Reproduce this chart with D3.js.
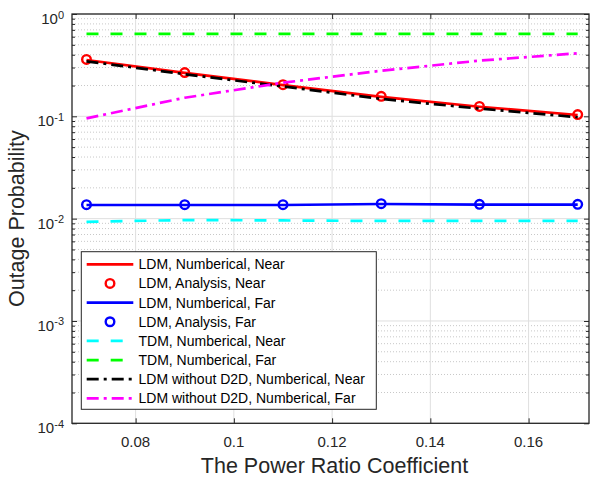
<!DOCTYPE html>
<html>
<head>
<meta charset="utf-8">
<script src="https://cdn.jsdelivr.net/npm/d3@7"></script>
<style>
  html, body { margin: 0; padding: 0; background: #fff; }
  svg { display: block; font-family: "Liberation Sans", Arial, Helvetica, sans-serif; }
</style>
</head>
<body>
<svg id="chart" width="590" height="481"></svg>
<script>
// ---------- data ----------
const xValues = [0.07, 0.09, 0.11, 0.13, 0.15, 0.17];
const ldmNumNear = [0.355, 0.266, 0.202, 0.155, 0.124, 0.103];
const ldmAnaNear = [0.36, 0.268, 0.204, 0.157, 0.125, 0.104];
const ldmNumFar = [0.0136, 0.0136, 0.0136, 0.0139, 0.0137, 0.0137];
const ldmAnaFar = [0.0137, 0.0137, 0.0137, 0.0140, 0.0138, 0.0138];
const tdmNumNear = [0.0093, 0.0097, 0.0096, 0.0095, 0.0095, 0.0095];
const tdmNumFar = [0.64, 0.64, 0.64, 0.64, 0.64, 0.64];
const noD2DNear = [0.345, 0.258, 0.196, 0.148, 0.119, 0.098];
const noD2DFar = [0.0955, 0.152, 0.213, 0.279, 0.35, 0.413];
const xTicks = [0.08, 0.1, 0.12, 0.14, 0.16];
const xTickLabels = ["0.08", "0.1", "0.12", "0.14", "0.16"];
const yTickExps = [0, -1, -2, -3, -4];
const seriesNames = [
  "LDM, Numberical, Near",
  "LDM, Analysis, Near",
  "LDM, Numberical, Far",
  "LDM, Analysis, Far",
  "TDM, Numberical, Near",
  "TDM, Numberical, Far",
  "LDM without D2D, Numberical, Near",
  "LDM without D2D, Numberical, Far"
];
const xLabel = "The Power Ratio Coefficient";
const yLabel = "Outage Probability";

// ---------- layout ----------
const L = 72, R = 589, T = 14, B = 423.3;
const svg = d3.select("#chart");
const x = d3.scaleLinear().domain([0.06705, 0.1723]).range([L, R]);
const y = d3.scaleLog().domain([1e-4, 1]).range([B, T]);
const axisColor = "#262626";

// grid
const g = svg.append("g");
// minor y grid
const minorY = [];
for (let e = -4; e < 0; e++) for (let m = 2; m <= 9; m++) minorY.push(m * Math.pow(10, e));
g.selectAll(".ming").data(minorY).enter().append("line")
  .attr("x1", L).attr("x2", R).attr("y1", d => y(d)).attr("y2", d => y(d))
  .attr("stroke", "#c8c8c8").attr("stroke-width", 1).attr("stroke-dasharray", "1,2");
// major grid
g.selectAll(".mgx").data(xTicks).enter().append("line")
  .attr("x1", d => x(d)).attr("x2", d => x(d)).attr("y1", T).attr("y2", B)
  .attr("stroke", "#dfdfdf").attr("stroke-width", 1);
g.selectAll(".mgy").data(yTickExps).enter().append("line")
  .attr("x1", L).attr("x2", R).attr("y1", d => y(Math.pow(10, d))).attr("y2", d => y(Math.pow(10, d)))
  .attr("stroke", "#dfdfdf").attr("stroke-width", 1);

// axes via d3 axis generators (ticks inward)
const xAxisB = d3.axisBottom(x).tickValues(xTicks).tickSize(-5).tickFormat("");
const xAxisT = d3.axisTop(x).tickValues(xTicks).tickSize(-5).tickFormat("");
const yMajor = yTickExps.map(e => Math.pow(10, e));
const yAxisL = d3.axisLeft(y).tickValues(yMajor).tickSize(-5).tickFormat("");
const yAxisR = d3.axisRight(y).tickValues(yMajor).tickSize(-5).tickFormat("");
const yAxisLm = d3.axisLeft(y).tickValues(minorY).tickSize(-3).tickFormat("");
const yAxisRm = d3.axisRight(y).tickValues(minorY).tickSize(-3).tickFormat("");
function styleAxis(sel) {
  sel.select(".domain").remove();
  sel.selectAll("line").attr("stroke", axisColor).attr("stroke-width", 1);
}
svg.append("g").attr("transform", `translate(0,${B})`).call(xAxisB).call(styleAxis);
svg.append("g").attr("transform", `translate(0,${T})`).call(xAxisT).call(styleAxis);
svg.append("g").attr("transform", `translate(${L},0)`).call(yAxisL).call(styleAxis);
svg.append("g").attr("transform", `translate(${R},0)`).call(yAxisR).call(styleAxis);
svg.append("g").attr("transform", `translate(${L},0)`).call(yAxisLm).call(styleAxis);
svg.append("g").attr("transform", `translate(${R},0)`).call(yAxisRm).call(styleAxis);
// box
svg.append("rect").attr("x", L).attr("y", T).attr("width", R - L).attr("height", B - T)
  .attr("fill", "none").attr("stroke", axisColor).attr("stroke-width", 1.3);

// tick labels
svg.selectAll(".xtl").data(xTicks).enter().append("text")
  .attr("x", d => x(d)).attr("y", B + 24).attr("text-anchor", "middle")
  .attr("font-size", 15).attr("fill", axisColor)
  .text((d, i) => xTickLabels[i]);
const ytl = svg.selectAll(".ytl").data(yTickExps).enter().append("text")
  .attr("x", 64).attr("y", d => y(Math.pow(10, d)) + 10).attr("text-anchor", "end")
  .attr("fill", axisColor);
ytl.append("tspan").attr("font-size", 15).text("10");
ytl.append("tspan").attr("font-size", 11).attr("dy", -5.5).text(d => String(d).replace("-", "-"));

// axis labels
svg.append("text").attr("x", (L + R) / 2 + 4).attr("y", 472.5).attr("text-anchor", "middle")
  .attr("font-size", 21.5).attr("fill", axisColor).text(xLabel);
svg.append("text").attr("transform", `translate(23.5,${(T + B) / 2}) rotate(-90)`)
  .attr("text-anchor", "middle").attr("font-size", 21.5).attr("fill", axisColor).text(yLabel);

// ---------- series ----------
const clip = svg.append("clipPath").attr("id", "pc").append("rect")
  .attr("x", L).attr("y", T).attr("width", R - L).attr("height", B - T);
const plot = svg.append("g").attr("clip-path", "url(#pc)");
const lineGen = d3.line().x(d => x(d[0])).y(d => y(d[1]));
const zipS = vals => xValues.map((xv, i) => [xv, vals[i]]);
const LW = 2.7;
const DASH = "12,12";
const DASHDOT = "12,5,3,5";

const series = [
  { vals: ldmNumNear, color: "#ff0000", type: "line", dash: null },
  { vals: ldmAnaNear, color: "#ff0000", type: "marker" },
  { vals: ldmNumFar, color: "#0000ff", type: "line", dash: null },
  { vals: ldmAnaFar, color: "#0000ff", type: "marker" },
  { vals: tdmNumNear, color: "#00ffff", type: "line", dash: DASH },
  { vals: tdmNumFar, color: "#00ff00", type: "line", dash: DASH },
  { vals: noD2DNear, color: "#000000", type: "line", dash: DASHDOT },
  { vals: noD2DFar, color: "#ff00ff", type: "line", dash: DASHDOT }
];

series.forEach(s => {
  if (s.type === "line") {
    plot.append("path").datum(zipS(s.vals)).attr("d", lineGen)
      .attr("fill", "none").attr("stroke", s.color).attr("stroke-width", LW)
      .attr("stroke-dasharray", s.dash);
  } else {
    plot.selectAll(null).data(zipS(s.vals)).enter().append("circle")
      .attr("cx", d => x(d[0])).attr("cy", d => y(d[1])).attr("r", 4.3)
      .attr("fill", "none").attr("stroke", s.color).attr("stroke-width", 2.4);
  }
});

// ---------- legend ----------
const lg = svg.append("g");
const LX0 = 81.3, LX1 = 376.3, LY0 = 251.7, LY1 = 409.3;
lg.append("rect").attr("x", LX0).attr("y", LY0).attr("width", LX1 - LX0).attr("height", LY1 - LY0)
  .attr("fill", "#fff").attr("stroke", axisColor).attr("stroke-width", 1);
series.forEach((s, i) => {
  const cy = 264.3 + i * 19.15;
  if (s.type === "line") {
    lg.append("line").attr("x1", 86.7).attr("x2", 133.3).attr("y1", cy).attr("y2", cy)
      .attr("stroke", s.color).attr("stroke-width", LW).attr("stroke-dasharray", s.dash);
  } else {
    lg.append("circle").attr("cx", 110).attr("cy", cy).attr("r", 4.3)
      .attr("fill", "none").attr("stroke", s.color).attr("stroke-width", 2.4);
  }
  lg.append("text").attr("x", 138.5).attr("y", cy + 5).attr("font-size", 14)
    .attr("fill", "#000").text(seriesNames[i]);
});
</script>
</body>
</html>
